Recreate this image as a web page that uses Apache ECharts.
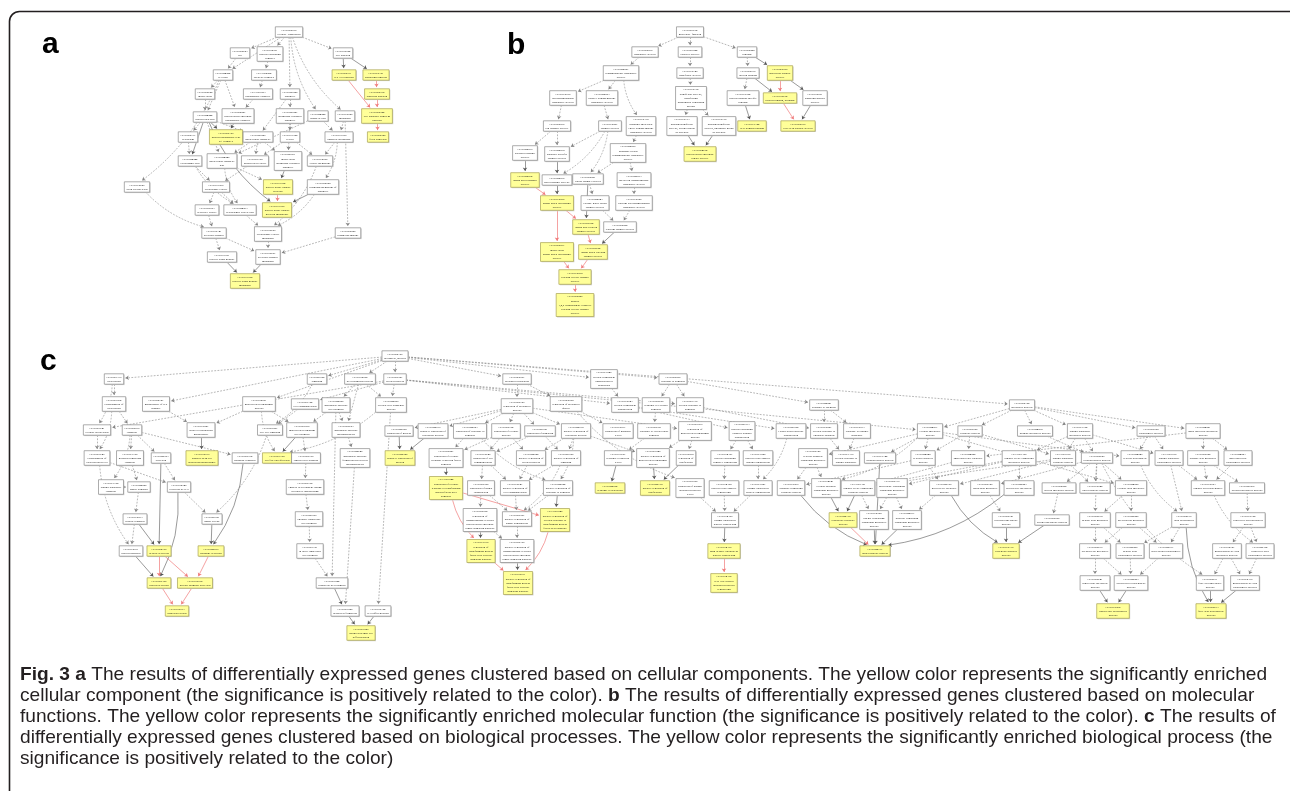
<!DOCTYPE html>
<html>
<head>
<meta charset="utf-8">
<script src="https://cdn.jsdelivr.net/npm/echarts@6/dist/echarts.min.js"></script>
<style>
  html, body { margin: 0; padding: 0; background: #fff; }
  #fig { width: 1290px; height: 791px; }
</style>
</head>
<body>
<div id="fig"></div>
<script>
// GO terms: [id, term, layout x, layout y, enriched]
// edges: [parent, child, kind]  d = dashed is_a, s = solid, r = enriched -> enriched

const ccNodes = [
  ['0005575', 'cellular_component', 289, 32, 0],
  ['0005623', 'cell', 240, 53, 0],
  ['0032991', 'protein-containing complex', 270, 54, 0],
  ['0030054', 'cell junction', 343, 53, 0],
  ['0044464', 'cell part', 223, 75, 0],
  ['1902494', 'catalytic complex', 264, 75, 0],
  ['0005911', 'cell-cell junction', 344, 75, 1],
  ['0070161', 'anchoring junction', 376, 75, 1],
  ['0005622', 'intracellular', 205, 94, 0],
  ['1903293', 'phosphatase complex', 258, 94, 0],
  ['0043226', 'organelle', 290, 94, 0],
  ['0005912', 'adherens junction', 377, 94, 1],
  ['0044424', 'intracellular part', 205, 117, 0],
  ['0008287', 'protein serine/threonine phosphatase complex', 238, 116, 0],
  ['0043227', 'membrane-bounded organelle', 290, 116, 0],
  ['0044422', 'organelle part', 318, 116, 0],
  ['0016020', 'membrane', 345, 116, 0],
  ['0005924', 'cell-substrate adherens junction', 377, 116, 1],
  ['0005737', 'cytoplasm', 188, 137, 0],
  ['0000159', 'protein phosphatase type 2A complex', 226, 137, 1],
  ['0043229', 'intracellular organelle', 258, 137, 0],
  ['0031982', 'vesicle', 290, 137, 0],
  ['0031090', 'organelle membrane', 339, 137, 0],
  ['0005925', 'focal adhesion', 378, 137, 1],
  ['0044444', 'cytoplasmic part', 190, 161, 0],
  ['0044446', 'intracellular organelle part', 222, 161, 0],
  ['0097708', 'intracellular vesicle', 255, 161, 0],
  ['0043231', 'intracellular membrane-bounded organelle', 288, 161, 0],
  ['0012506', 'vesicle membrane', 320, 161, 0],
  ['0015629', 'actin cytoskeleton', 137, 187, 0],
  ['0031410', 'cytoplasmic vesicle', 216, 187, 0],
  ['0031094', 'platelet dense tubular network', 278, 187, 1],
  ['0098588', 'bounding membrane of organelle', 323, 187, 0],
  ['0099503', 'secretory vesicle', 207, 210, 0],
  ['0044433', 'cytoplasmic vesicle part', 240, 210, 0],
  ['0031095', 'platelet dense tubular network membrane', 277, 210, 1],
  ['0030141', 'secretory granule', 214, 233, 0],
  ['0030659', 'cytoplasmic vesicle membrane', 268, 234, 0],
  ['0005886', 'plasma membrane', 348, 233, 0],
  ['0031091', 'platelet alpha granule', 222, 257, 0],
  ['0030667', 'secretory granule membrane', 268, 257, 0],
  ['0031092', 'platelet alpha granule membrane', 245, 281, 1]
];

const ccEdges = [
  ['0005575', '0005623', 'd'], ['0005575', '0032991', 'd'], ['0005575', '0030054', 'd'],
  ['0005575', '0043226', 'd'], ['0005575', '0044422', 'd'], ['0005575', '0016020', 'd'],
  ['0005575', '0044464', 'd'], ['0005623', '0044464', 'd'], ['0032991', '1902494', 'd'],
  ['0030054', '0005911', 's'], ['0030054', '0070161', 's'], ['0070161', '0005912', 'r'],
  ['0005911', '0005924', 'r'], ['0005912', '0005924', 'r'], ['0005924', '0005925', 'r'],
  ['0044464', '0005622', 'd'], ['0044464', '0044424', 'd'], ['0044464', '0008287', 'd'],
  ['0044464', '0015629', 'd'], ['1902494', '1903293', 'd'], ['0005622', '0044424', 'd'],
  ['1903293', '0008287', 'd'], ['0043226', '0043227', 'd'], ['0043226', '0043229', 'd'],
  ['0044424', '0005737', 'd'], ['0044424', '0000159', 's'], ['0044424', '0043229', 'd'],
  ['0044424', '0044444', 's'], ['0044424', '0044446', 'd'], ['0044424', '0031095', 's'],
  ['0008287', '0000159', 's'], ['0043227', '0031982', 'd'], ['0043227', '0043231', 'd'],
  ['0044422', '0031090', 'd'], ['0044422', '0044446', 'd'], ['0016020', '0031090', 'd'],
  ['0016020', '0005886', 'd'], ['0005737', '0044444', 'd'], ['0043229', '0097708', 'd'],
  ['0043229', '0044446', 'd'], ['0043229', '0043231', 'd'], ['0031982', '0097708', 'd'],
  ['0031982', '0012506', 'd'], ['0031090', '0012506', 'd'], ['0031090', '0098588', 'd'],
  ['0044444', '0031410', 'd'], ['0044444', '0044433', 'd'], ['0044446', '0031094', 'd'],
  ['0044446', '0044433', 'd'], ['0097708', '0031410', 'd'], ['0043231', '0031094', 's'],
  ['0012506', '0030659', 'd'], ['0031094', '0031095', 'r'], ['0098588', '0031095', 's'],
  ['0098588', '0030659', 'd'], ['0031410', '0099503', 'd'], ['0031410', '0044433', 'd'],
  ['0015629', '0030141', 'd'], ['0099503', '0030141', 'd'], ['0044433', '0030659', 'd'],
  ['0030141', '0031091', 'd'], ['0030141', '0030667', 'd'], ['0030659', '0030667', 'd'],
  ['0005886', '0030667', 'd'], ['0031091', '0031092', 's'], ['0030667', '0031092', 's']
];

const mfNodes = [
  ['0003674', 'molecular_function', 690, 32, 0],
  ['0005215', 'transporter activity', 645, 52, 0],
  ['0003824', 'catalytic activity', 690, 52, 0],
  ['0005488', 'binding', 747, 52, 0],
  ['0022857', 'transmembrane transporter activity', 621, 73, 0],
  ['0016740', 'transferase activity', 690, 73, 0],
  ['0005515', 'protein binding', 748, 73, 0],
  ['0060090', 'molecular adaptor activity', 780, 73, 1],
  ['0015075', 'ion transmembrane transporter activity', 563, 98, 0],
  ['0022803', 'passive transmembrane transporter activity', 602, 98, 0],
  ['0016772', 'transferase activity, transferring phosphorus-containing groups', 691, 98, 0],
  ['0019904', 'protein domain specific binding', 743, 98, 0],
  ['0030674', 'protein binding, bridging', 780, 98, 1],
  ['0035591', 'signaling adaptor activity', 815, 98, 0],
  ['0005216', 'ion channel activity', 557, 126, 0],
  ['0015267', 'channel activity', 610, 126, 0],
  ['0015318', 'inorganic molecular entity transmembrane transporter activity', 641, 126, 0],
  ['0016773', 'phosphotransferase activity, alcohol group as acceptor', 682, 126, 0],
  ['0016776', 'phosphotransferase activity, phosphate group as acceptor', 719, 126, 0],
  ['0017124', 'SH3 domain binding', 752, 126, 1],
  ['0005070', 'SH3/SH2 adaptor activity', 798, 126, 1],
  ['0022839', 'ion gated channel activity', 525, 153, 0],
  ['0022838', 'substrate-specific channel activity', 557, 154, 0],
  ['0022890', 'inorganic cation transmembrane transporter activity', 628, 153, 0],
  ['0004674', 'protein serine/threonine kinase activity', 700, 154, 1],
  ['0022834', 'ligand-gated channel activity', 525, 180, 1],
  ['0022836', 'gated channel activity', 557, 180, 0],
  ['0005261', 'cation channel activity', 588, 179, 0],
  ['0046873', 'metal ion transmembrane transporter activity', 634, 180, 0],
  ['0015276', 'ligand-gated ion channel activity', 557, 203, 1],
  ['0022843', 'voltage-gated cation channel activity', 595, 203, 0],
  ['0015085', 'calcium ion transmembrane transporter activity', 634, 203, 0],
  ['0099094', 'ligand-gated cation channel activity', 586, 227, 1],
  ['0005262', 'calcium channel activity', 620, 227, 0],
  ['0005217', 'intracellular ligand-gated ion channel activity', 557, 252, 1],
  ['0099604', 'ligand-gated calcium channel activity', 593, 252, 1],
  ['0015278', 'calcium-release channel activity', 575, 277, 1],
  ['0005220', 'inositol 1,4,5-trisphosphate-sensitive calcium-release channel activity', 575, 305, 1]
];

const mfEdges = [
  ['0003674', '0005215', 'd'], ['0003674', '0003824', 'd'], ['0003674', '0005488', 'd'],
  ['0005215', '0022857', 'd'], ['0003824', '0016740', 'd'], ['0022857', '0015075', 'd'],
  ['0022857', '0022803', 'd'], ['0022857', '0015318', 'd'], ['0016740', '0016772', 'd'],
  ['0015075', '0005216', 'd'], ['0022803', '0015267', 'd'], ['0016772', '0016773', 'd'],
  ['0016772', '0016776', 'd'], ['0005216', '0022839', 'd'], ['0005216', '0022838', 'd'],
  ['0015267', '0022838', 'd'], ['0015267', '0022836', 'd'], ['0015267', '0005261', 'd'],
  ['0015318', '0022890', 'd'], ['0016773', '0004674', 's'], ['0016776', '0004674', 's'],
  ['0022839', '0022834', 's'], ['0022838', '0022836', 's'], ['0022890', '0046873', 'd'],
  ['0022890', '0005261', 'd'], ['0022834', '0015276', 'r'], ['0022836', '0015276', 's'],
  ['0005261', '0022843', 'd'], ['0005261', '0099094', 's'], ['0046873', '0015085', 'd'],
  ['0015276', '0099094', 'r'], ['0015276', '0005217', 'r'], ['0022843', '0005262', 'd'],
  ['0015085', '0005262', 'd'], ['0099094', '0099604', 'r'], ['0005262', '0099604', 's'],
  ['0005217', '0015278', 'r'], ['0099604', '0015278', 'r'], ['0015278', '0005220', 'r'],
  ['0005488', '0005515', 'd'], ['0005488', '0060090', 's'], ['0005515', '0019904', 'd'],
  ['0005515', '0030674', 's'], ['0060090', '0030674', 'r'], ['0060090', '0035591', 's'],
  ['0019904', '0017124', 's'], ['0030674', '0005070', 'r'], ['0035591', '0005070', 's']
];

const bpNodes = [
  ['0008150', 'biological_process', 395, 356, 0],
  ['0051179', 'localization', 114, 379, 0],
  ['0023052', 'signaling', 317, 379, 0],
  ['0032502', 'developmental process', 360, 379, 0],
  ['0009987', 'cellular process', 395, 379, 0],
  ['0065007', 'biological regulation', 517, 379, 0],
  ['0071840', 'cellular component organization or biogenesis', 604, 379, 0],
  ['0050896', 'response to stimulus', 673, 379, 0],
  ['0051234', 'establishment of localization', 114, 404, 0],
  ['0098727', 'maintenance of cell number', 156, 404, 0],
  ['0032501', 'multicellular organismal process', 259, 404, 0],
  ['0007154', 'cell communication', 305, 404, 0],
  ['0048856', 'anatomical structure development', 336, 405, 0],
  ['0048869', 'cellular developmental process', 391, 405, 0],
  ['0050789', 'regulation of biological process', 517, 406, 0],
  ['0065008', 'regulation of biological quality', 566, 404, 0],
  ['0016043', 'cellular component organization', 625, 405, 0],
  ['0009605', 'response to external stimulus', 656, 405, 0],
  ['0051716', 'cellular response to stimulus', 690, 405, 0],
  ['0042221', 'response to chemical', 824, 405, 0],
  ['0008152', 'metabolic process', 1022, 405, 0],
  ['0051641', 'cellular localization', 97, 430, 0],
  ['0006810', 'transport', 132, 430, 0],
  ['0019827', 'stem cell population maintenance', 201, 430, 0],
  ['0007267', 'cell-cell signaling', 270, 430, 0],
  ['0007275', 'multicellular organism development', 302, 430, 0],
  ['0009653', 'anatomical structure morphogenesis', 346, 430, 0],
  ['0040008', 'regulation of growth', 399, 431, 0],
  ['0048519', 'negative regulation of biological process', 433, 431, 0],
  ['0048583', 'regulation of response to stimulus', 470, 431, 0],
  ['0050794', 'regulation of cellular process', 506, 431, 0],
  ['0023051', 'regulation of signaling', 540, 431, 0],
  ['0048518', 'positive regulation of biological process', 576, 431, 0],
  ['0010817', 'regulation of hormone levels', 618, 431, 0],
  ['0009991', 'response to extracellular stimulus', 654, 431, 0],
  ['0051239', 'regulation of multicellular organismal process', 695, 431, 0],
  ['0043933', 'protein-containing complex subunit organization', 742, 431, 0],
  ['0043062', 'extracellular structure organization', 791, 431, 0],
  ['0070887', 'cellular response to chemical stimulus', 824, 431, 0],
  ['0010033', 'response to organic substance', 857, 431, 0],
  ['0044237', 'cellular metabolic process', 930, 431, 0],
  ['0009056', 'catabolic process', 970, 431, 0],
  ['0044238', 'primary metabolic process', 1035, 431, 0],
  ['0071704', 'organic substance metabolic process', 1080, 431, 0],
  ['0009058', 'biosynthetic process', 1151, 431, 0],
  ['0044281', 'small molecule metabolic process', 1203, 431, 0],
  ['0051649', 'establishment of localization in cell', 97, 458, 0],
  ['0071705', 'nitrogen compound transport', 130, 458, 0],
  ['0046903', 'secretion', 161, 458, 0],
  ['0035019', 'somatic stem cell population maintenance', 202, 458, 1],
  ['0009914', 'hormone transport', 245, 458, 0],
  ['0001708', 'cell fate specification', 277, 458, 1],
  ['0009790', 'embryo development', 306, 458, 0],
  ['0048646', 'anatomical structure formation involved in morphogenesis', 355, 458, 0],
  ['0045926', 'negative regulation of growth', 400, 458, 1],
  ['0090287', 'regulation of cellular response to growth factor stimulus', 446, 458, 0],
  ['0010646', 'regulation of cell communication', 483, 458, 0],
  ['0048522', 'positive regulation of cellular process', 531, 458, 0],
  ['0023056', 'positive regulation of signaling', 566, 458, 0],
  ['0031667', 'response to nutrient levels', 618, 458, 0],
  ['0051240', 'positive regulation of multicellular organismal process', 653, 458, 0],
  ['0030278', 'regulation of ossification', 686, 458, 0],
  ['0034367', 'protein-containing complex remodeling', 725, 458, 0],
  ['0071825', 'protein-lipid complex subunit organization', 758, 458, 0],
  ['0006725', 'cellular aromatic compound metabolic process', 813, 458, 0],
  ['0071310', 'cellular response to organic substance', 846, 458, 0],
  ['0017144', 'drug metabolic process', 880, 458, 0],
  ['0044248', 'cellular catabolic process', 923, 458, 0],
  ['0044282', 'small molecule catabolic process', 968, 458, 0],
  ['1901360', 'organic cyclic compound metabolic process', 1019, 458, 0],
  ['1901575', 'organic substance catabolic process', 1063, 458, 0],
  ['0006629', 'lipid metabolic process', 1097, 458, 0],
  ['0044249', 'cellular biosynthetic process', 1135, 458, 0],
  ['1901576', 'organic substance biosynthetic process', 1169, 458, 0],
  ['0006082', 'organic acid metabolic process', 1203, 458, 0],
  ['0044283', 'small molecule biosynthetic process', 1238, 458, 0],
  ['0071702', 'organic substance transport', 111, 487, 0],
  ['0042886', 'amide transport', 139, 487, 0],
  ['0032940', 'secretion by cell', 179, 487, 0],
  ['0009792', 'embryo development ending in birth or egg hatching', 305, 487, 0],
  ['1903844', 'regulation of cellular response to transforming growth factor beta stimulus', 446, 488, 1],
  ['0009966', 'regulation of signal transduction', 481, 488, 0],
  ['0010647', 'positive regulation of cell communication', 515, 488, 0],
  ['0048584', 'positive regulation of response to stimulus', 558, 488, 0],
  ['0042594', 'response to starvation', 610, 488, 1],
  ['0045778', 'positive regulation of ossification', 655, 488, 1],
  ['0097006', 'regulation of plasma lipoprotein particle levels', 690, 488, 0],
  ['0034368', 'protein-lipid complex remodeling', 724, 488, 0],
  ['0071827', 'plasma lipoprotein particle organization', 758, 488, 0],
  ['0019439', 'aromatic compound catabolic process', 791, 488, 0],
  ['0034641', 'cellular nitrogen compound metabolic process', 826, 488, 0],
  ['1901361', 'organic cyclic compound catabolic process', 858, 488, 0],
  ['0006139', 'nucleobase-containing compound metabolic process', 892, 488, 0],
  ['0046700', 'heterocycle catabolic process', 944, 488, 0],
  ['0006720', 'isoprenoid metabolic process', 985, 488, 0],
  ['0046483', 'heterocycle metabolic process', 1019, 488, 0],
  ['0008202', 'steroid metabolic process', 1059, 488, 0],
  ['0016042', 'lipid catabolic process', 1095, 488, 0],
  ['0044255', 'cellular lipid metabolic process', 1131, 488, 0],
  ['0016053', 'organic acid biosynthetic process', 1208, 488, 0],
  ['0043436', 'oxoacid metabolic process', 1247, 488, 0],
  ['0015833', 'peptide transport', 135, 519, 0],
  ['0023061', 'signal release', 212, 519, 0],
  ['0043009', 'chordate embryonic development', 309, 519, 0],
  ['0090092', 'regulation of transmembrane receptor protein serine/threonine kinase signaling pathway', 480, 520, 0],
  ['0009967', 'positive regulation of signal transduction', 517, 519, 0],
  ['1903846', 'positive regulation of cellular response to transforming growth factor beta stimulus', 555, 520, 1],
  ['0034369', 'plasma lipoprotein particle remodeling', 725, 520, 0],
  ['0042178', 'xenobiotic catabolic process', 843, 520, 1],
  ['0018958', 'phenol-containing compound metabolic process', 874, 520, 0],
  ['0042537', 'benzene-containing compound metabolic process', 907, 520, 0],
  ['0006721', 'terpenoid metabolic process', 1006, 520, 0],
  ['0006066', 'alcohol metabolic process', 1052, 520, 0],
  ['0006638', 'neutral lipid metabolic process', 1095, 520, 0],
  ['0046486', 'glycerolipid metabolic process', 1131, 520, 0],
  ['0008610', 'lipid biosynthetic process', 1184, 520, 0],
  ['0019752', 'carboxylic acid metabolic process', 1248, 520, 0],
  ['0015031', 'protein transport', 131, 551, 0],
  ['0002790', 'peptide secretion', 159, 551, 1],
  ['0046879', 'hormone secretion', 211, 551, 1],
  ['0001701', 'in utero embryonic development', 310, 551, 0],
  ['0017015', 'regulation of transforming growth factor beta receptor signaling pathway', 481, 551, 1],
  ['0090100', 'positive regulation of transmembrane receptor protein serine/threonine kinase signaling pathway', 517, 551, 0],
  ['0034375', 'high-density lipoprotein particle remodeling', 724, 551, 1],
  ['0042737', 'drug catabolic process', 875, 551, 1],
  ['0016115', 'terpenoid catabolic process', 1006, 551, 1],
  ['0006639', 'acylglycerol metabolic process', 1095, 551, 0],
  ['0046460', 'neutral lipid biosynthetic process', 1130, 551, 0],
  ['0045017', 'glycerolipid biosynthetic process', 1166, 551, 0],
  ['0032787', 'monocarboxylic acid metabolic process', 1227, 551, 0],
  ['0046394', 'carboxylic acid biosynthetic process', 1260, 551, 0],
  ['0009306', 'protein secretion', 159, 583, 1],
  ['0030072', 'peptide hormone secretion', 195, 583, 1],
  ['0001824', 'blastocyst development', 332, 583, 0],
  ['0030511', 'positive regulation of transforming growth factor beta receptor signaling pathway', 518, 583, 1],
  ['0034372', 'very-low-density lipoprotein particle remodeling', 724, 583, 1],
  ['0006641', 'triglyceride metabolic process', 1095, 583, 0],
  ['0046463', 'acylglycerol biosynthetic process', 1131, 583, 0],
  ['0006631', 'fatty acid metabolic process', 1210, 583, 0],
  ['0072330', 'monocarboxylic acid biosynthetic process', 1245, 583, 0],
  ['0030073', 'insulin secretion', 177, 611, 1],
  ['0001825', 'blastocyst formation', 345, 611, 0],
  ['0030154', 'cell differentiation', 378, 611, 0],
  ['0019432', 'triglyceride biosynthetic process', 1113, 611, 1],
  ['0006633', 'fatty acid biosynthetic process', 1211, 611, 1],
  ['0001829', 'trophectodermal cell differentiation', 361, 633, 1]
];

const bpEdges = [
  ['0008150', '0051179', 'd'], ['0008150', '0023052', 'd'], ['0008150', '0032502', 'd'],
  ['0008150', '0009987', 'd'], ['0008150', '0065007', 'd'], ['0008150', '0071840', 'd'],
  ['0008150', '0050896', 'd'], ['0008150', '0008152', 'd'], ['0008150', '0032501', 'd'],
  ['0008150', '0098727', 'd'], ['0051179', '0051234', 'd'], ['0051179', '0051641', 'd'],
  ['0051234', '0006810', 'd'], ['0051234', '0051649', 'd'], ['0051641', '0051649', 'd'],
  ['0006810', '0071705', 'd'], ['0006810', '0046903', 'd'], ['0006810', '0071702', 'd'],
  ['0006810', '0009914', 'd'], ['0051649', '0015031', 'd'], ['0051649', '0032940', 'd'],
  ['0071705', '0042886', 'd'], ['0071702', '0042886', 'd'], ['0046903', '0032940', 'd'],
  ['0046903', '0002790', 's'], ['0042886', '0015833', 'd'], ['0015833', '0002790', 's'],
  ['0015833', '0015031', 'd'], ['0015031', '0009306', 's'], ['0032940', '0023061', 'd'],
  ['0032940', '0009306', 's'], ['0023052', '0007267', 'd'], ['0007154', '0007267', 'd'],
  ['0007267', '0023061', 'd'], ['0023061', '0046879', 's'], ['0009914', '0046879', 's'],
  ['0002790', '0009306', 'r'], ['0002790', '0030072', 'r'], ['0046879', '0030072', 'r'],
  ['0009306', '0030073', 'r'], ['0030072', '0030073', 'r'], ['0098727', '0019827', 'd'],
  ['0032501', '0019827', 'd'], ['0032501', '0007275', 'd'], ['0032501', '0001708', 'd'],
  ['0019827', '0035019', 's'], ['0009987', '0007154', 'd'], ['0009987', '0048869', 'd'],
  ['0009987', '0051641', 'd'], ['0009987', '0044237', 'd'], ['0009987', '0016043', 'd'],
  ['0009987', '0051716', 'd'], ['0032502', '0048856', 'd'], ['0032502', '0048869', 'd'],
  ['0032502', '0009653', 'd'], ['0048856', '0007275', 'd'], ['0048856', '0009653', 'd'],
  ['0048856', '0001824', 'd'], ['0007275', '0009790', 'd'], ['0007275', '0001708', 's'],
  ['0048869', '0001708', 'd'], ['0048869', '0030154', 'd'], ['0009653', '0048646', 'd'],
  ['0009790', '0009792', 'd'], ['0009792', '0043009', 'd'], ['0043009', '0001701', 'd'],
  ['0001701', '0001824', 'd'], ['0048646', '0001825', 'd'], ['0001824', '0001825', 's'],
  ['0001825', '0001829', 's'], ['0030154', '0001829', 's'], ['0040008', '0045926', 's'],
  ['0048519', '0045926', 's'], ['0065007', '0050789', 'd'], ['0065007', '0065008', 'd'],
  ['0050789', '0040008', 'd'], ['0050789', '0048519', 'd'], ['0050789', '0048583', 'd'],
  ['0050789', '0050794', 'd'], ['0050789', '0023051', 'd'], ['0050789', '0048518', 'd'],
  ['0050789', '0051239', 'd'], ['0065008', '0010817', 'd'], ['0065008', '0097006', 'd'],
  ['0071840', '0016043', 'd'], ['0016043', '0043933', 'd'], ['0016043', '0043062', 'd'],
  ['0050896', '0009605', 'd'], ['0050896', '0051716', 'd'], ['0050896', '0042221', 'd'],
  ['0009605', '0009991', 'd'], ['0009991', '0031667', 'd'], ['0031667', '0042594', 's'],
  ['0048583', '0090287', 'd'], ['0048583', '0048584', 'd'], ['0050794', '0010646', 'd'],
  ['0050794', '0048522', 'd'], ['0050794', '0090287', 'd'], ['0023051', '0010646', 'd'],
  ['0023051', '0023056', 'd'], ['0048518', '0048522', 'd'], ['0048518', '0023056', 'd'],
  ['0048518', '0051240', 'd'], ['0048518', '0048584', 'd'], ['0051239', '0051240', 'd'],
  ['0051239', '0030278', 'd'], ['0043933', '0034367', 'd'], ['0043933', '0071825', 'd'],
  ['0090287', '1903844', 's'], ['0010646', '0009966', 'd'], ['0010646', '0010647', 'd'],
  ['0048522', '0010647', 'd'], ['0023056', '0010647', 'd'], ['0023056', '0009967', 'd'],
  ['0051240', '0045778', 's'], ['0030278', '0045778', 's'], ['0034367', '0034368', 'd'],
  ['0071825', '0071827', 'd'], ['1903844', '1903846', 'r'], ['1903844', '0017015', 'r'],
  ['0009966', '0090092', 'd'], ['0009966', '0009967', 'd'], ['0010647', '0009967', 'd'],
  ['0048584', '0009967', 'd'], ['0048584', '1903846', 's'], ['0097006', '0034369', 'd'],
  ['0034368', '0034369', 'd'], ['0071827', '0034369', 'd'], ['0090092', '0017015', 's'],
  ['0090092', '0090100', 'd'], ['0009967', '0090100', 'd'], ['0017015', '0030511', 'r'],
  ['0090100', '0030511', 's'], ['1903846', '0030511', 'r'], ['0034369', '0034375', 's'],
  ['0034375', '0034372', 'r'], ['0042221', '0070887', 'd'], ['0042221', '0010033', 'd'],
  ['0051716', '0070887', 'd'], ['0070887', '0071310', 'd'], ['0010033', '0071310', 'd'],
  ['0043062', '0071827', 'd'], ['0008152', '0044237', 'd'], ['0008152', '0009056', 'd'],
  ['0008152', '0044238', 'd'], ['0008152', '0071704', 'd'], ['0008152', '0009058', 'd'],
  ['0008152', '0044281', 'd'], ['0044237', '0006725', 'd'], ['0044237', '0044248', 'd'],
  ['0044237', '0017144', 'd'], ['0044237', '0034641', 'd'], ['0044237', '0044249', 'd'],
  ['0044237', '0044255', 'd'], ['0009056', '0044248', 'd'], ['0009056', '0044282', 'd'],
  ['0009056', '1901575', 'd'], ['0044238', '0006629', 'd'], ['0071704', '1901360', 'd'],
  ['0071704', '0006629', 'd'], ['0071704', '1901575', 'd'], ['0071704', '1901576', 'd'],
  ['0009058', '0044249', 'd'], ['0009058', '1901576', 'd'], ['0044281', '0044283', 'd'],
  ['0044281', '0006082', 'd'], ['0044281', '0044282', 'd'], ['0006725', '0019439', 'd'],
  ['0006725', '0034641', 'd'], ['0017144', '0042737', 's'], ['0044248', '0019439', 'd'],
  ['0044248', '0046700', 'd'], ['0044282', '1901361', 'd'], ['1901360', '1901361', 'd'],
  ['1901360', '0046483', 'd'], ['1901360', '0006139', 'd'], ['1901575', '1901361', 'd'],
  ['1901575', '0016042', 'd'], ['1901575', '0046700', 'd'], ['0006629', '0016042', 'd'],
  ['0006629', '0044255', 'd'], ['0006629', '0006720', 'd'], ['0006629', '0008202', 'd'],
  ['0006629', '0006638', 'd'], ['0006629', '0006631', 'd'], ['0044249', '0008610', 'd'],
  ['1901576', '0008610', 'd'], ['1901576', '0016053', 'd'], ['0006082', '0043436', 'd'],
  ['0006082', '0016053', 'd'], ['0044283', '0016053', 'd'], ['0019439', '0042737', 's'],
  ['0034641', '0042178', 's'], ['1901361', '0042178', 's'], ['1901361', '0018958', 'd'],
  ['0006139', '0018958', 'd'], ['0006139', '0042537', 'd'], ['0046700', '0042537', 'd'],
  ['0046700', '0016115', 's'], ['0006720', '0006721', 'd'], ['0046483', '0042737', 's'],
  ['0008202', '0006066', 'd'], ['0044255', '0006638', 'd'], ['0044255', '0046486', 'd'],
  ['0042178', '0042737', 'r'], ['0018958', '0042737', 's'], ['0042537', '0042737', 's'],
  ['0006721', '0016115', 's'], ['0006066', '0016115', 's'], ['0006638', '0006639', 'd'],
  ['0006638', '0046460', 'd'], ['0046486', '0006639', 'd'], ['0046486', '0045017', 'd'],
  ['0008610', '0046460', 'd'], ['0008610', '0045017', 'd'], ['0008610', '0006633', 's'],
  ['0043436', '0019752', 'd'], ['0016053', '0046394', 'd'], ['0019752', '0032787', 'd'],
  ['0019752', '0046394', 'd'], ['0032787', '0006631', 'd'], ['0032787', '0072330', 'd'],
  ['0046394', '0072330', 'd'], ['0006639', '0006641', 'd'], ['0006639', '0046463', 'd'],
  ['0046460', '0046463', 'd'], ['0045017', '0046463', 'd'], ['0006641', '0019432', 's'],
  ['0046463', '0019432', 's'], ['0006631', '0006633', 's'], ['0072330', '0006633', 's']
];

const panelLetters = ['a', 'b', 'c'];

const captionLines = [
  '{b|Fig. 3 a} The results of differentially expressed genes clustered based on cellular components. The yellow color represents the significantly enriched',
  'cellular component (the significance is positively related to the color). {b|b} The results of differentially expressed genes clustered based on molecular',
  'functions. The yellow color represents the significantly enriched molecular function (the significance is positively related to the color). {b|c} The results of',
  'differentially expressed genes clustered based on biological processes. The yellow color represents the significantly enriched biological process (the',
  'significance is positively related to the color)'
];

// ---------------------------------------------------------------------------

const NODE_FONT = 2.9;
const NODE_FAMILY = '"Liberation Serif", "Times New Roman", serif';
const LINE_H = 4.2;
const PAD_X = 2.2;
const PAD_Y = 1.0;
const WRAP = 25;
const ARROW = 3.4;
const CAP_FAMILY = '"Liberation Sans", Arial, sans-serif';
const CAP_SIZE = 18.5;

const ctx = document.createElement('canvas').getContext('2d');

function wrapTerm(term) {
  const lines = [];
  let cur = '';
  term.split(' ').forEach((w) => {
    if (cur && (cur + ' ' + w).length > WRAP) {
      lines.push(cur);
      cur = w;
    } else {
      cur = cur ? cur + ' ' + w : w;
    }
  });
  if (cur) lines.push(cur);
  return lines;
}

function borderPoint(n, tx, ty, inset) {
  const dx = tx - n.x, dy = ty - n.y;
  const len = Math.hypot(dx, dy) || 1;
  const sx = dx === 0 ? Infinity : (n.w / 2) / Math.abs(dx);
  const sy = dy === 0 ? Infinity : (n.h / 2) / Math.abs(dy);
  const s = Math.min(sx, sy);
  return [n.x + dx * s + dx / len * inset, n.y + dy * s + dy / len * inset];
}

const allNodes = [];
const allLinks = [];

function addPanel(nodes, edges) {
  ctx.font = NODE_FONT + 'px ' + NODE_FAMILY;
  const byId = {};
  nodes.forEach(([id, term, x, y, sig]) => {
    const lines = ['GO:' + id].concat(wrapTerm(term));
    const w = Math.max(...lines.map(l => ctx.measureText(l).width)) + PAD_X * 2;
    const h = lines.length * LINE_H + PAD_Y * 2;
    const n = { id, lines, x, y, sig, w, h };
    byId[id] = n;
    allNodes.push(n);
  });
  edges.forEach(([from, to, kind]) => {
    const a = byId[from], b = byId[to];
    const dy = b.y - a.y, dx = b.x - a.x;
    // long drops bend like dot splines: down first, then across
    const bend = dy > 45 && Math.abs(dx) > 15 && Math.abs(dx) < 2.5 * dy;
    allLinks.push({
      coords: [borderPoint(a, b.x, b.y, 0), borderPoint(b, a.x, a.y, ARROW / 2)],
      kind,
      curveness: bend ? -0.14 * Math.sign(dx) : 0
    });
  });
}

addPanel(ccNodes, ccEdges);
addPanel(mfNodes, mfEdges);
addPanel(bpNodes, bpEdges);

const edgeStyle = {
  d: { color: '#858585', width: 0.6, type: [1.8, 1.4] },
  s: { color: '#555555', width: 0.6, type: 'solid' },
  r: { color: '#f07a7a', width: 0.7, type: 'solid' }
};

// stretch the caption so its first line spans the printed measure
ctx.font = CAP_SIZE + 'px ' + CAP_FAMILY;
const plain0 = captionLines[0].replace(/\{b\|([^}]*)\}/g, '$1');
const capStretch = 1245 / ctx.measureText(plain0).width;

const chart = echarts.init(document.getElementById('fig'));

const option = {
  animation: false,
  grid: { left: 0, right: 0, top: 0, bottom: 0 },
  xAxis: { type: 'value', min: 0, max: 1290, show: false },
  yAxis: { type: 'value', min: 0, max: 791, inverse: true, show: false },
  series: [
    {
      type: 'lines',
      coordinateSystem: 'cartesian2d',
      z: 2,
      silent: true,
      symbol: ['none', 'arrow'],
      symbolSize: ARROW,
      data: allLinks.map(l => ({
        coords: l.coords,
        lineStyle: {
          color: edgeStyle[l.kind].color,
          width: edgeStyle[l.kind].width,
          type: edgeStyle[l.kind].type,
          curveness: l.curveness,
          opacity: 1
        }
      }))
    },
    {
      type: 'custom',
      coordinateSystem: 'cartesian2d',
      z: 3,
      silent: true,
      data: allNodes.map((n, i) => [n.x, n.y, i]),
      encode: { x: 0, y: 1 },
      renderItem(params, api) {
        const n = allNodes[api.value(2)];
        const c = api.coord([n.x, n.y]);
        const x0 = c[0] - n.w / 2, y0 = c[1] - n.h / 2;
        return {
          type: 'group',
          children: [
            { type: 'rect', shape: { x: x0 + 0.9, y: y0 + 0.9, width: n.w, height: n.h },
              style: { fill: '#cfcfcf' } },
            { type: 'rect', shape: { x: x0, y: y0, width: n.w, height: n.h },
              style: { fill: n.sig ? '#ffff99' : '#ffffff', stroke: n.sig ? '#a8a255' : '#8a8a8a', lineWidth: 0.7 } },
            { type: 'text',
              style: { x: c[0], y: c[1], text: n.lines.join('\n'), fontSize: NODE_FONT, lineHeight: LINE_H,
                       fontFamily: NODE_FAMILY, align: 'center', verticalAlign: 'middle', fill: '#111' } }
          ]
        };
      }
    }
  ],
  graphic: [
    { type: 'rect', silent: true, z: 0,
      shape: { x: 9.5, y: 11.5, width: 1330, height: 830, r: 10 },
      style: { fill: 'none', stroke: '#231f20', lineWidth: 1.6 } },
    ...panelLetters.map((t, i) => ({
      type: 'text', silent: true,
      x: [42, 507, 40][i], y: [44.5, 45.5, 361.5][i],
      style: { text: t, fontSize: 30, fontWeight: 'bold', fontFamily: '"Liberation Sans", Arial, sans-serif',
               fill: '#000', verticalAlign: 'middle' }
    })),
    ...captionLines.map((line, i) => ({
      type: 'text', silent: true,
      x: 20, y: 675 + i * 21, scaleX: capStretch,
      style: { text: line, fontSize: CAP_SIZE, fontFamily: CAP_FAMILY, fill: '#231f20', verticalAlign: 'middle',
               rich: { b: { fontWeight: 'bold', fontSize: CAP_SIZE, fontFamily: CAP_FAMILY, fill: '#231f20' } } }
    }))
  ]
};

chart.setOption(option);
</script>
</body>
</html>
